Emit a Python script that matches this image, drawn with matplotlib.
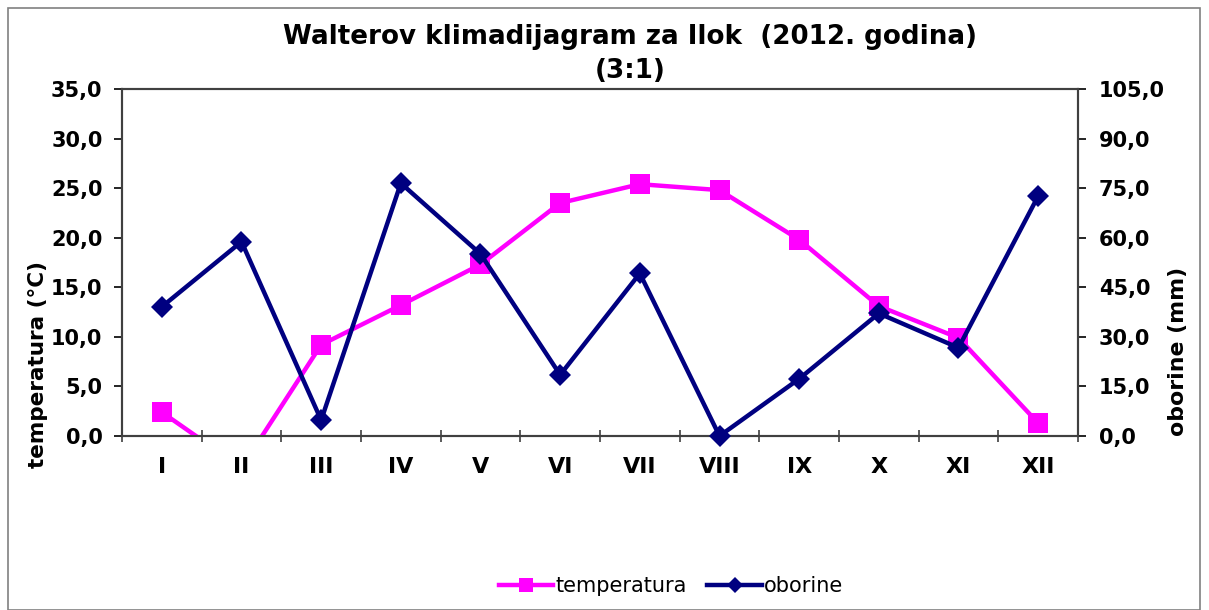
import matplotlib
matplotlib.use("Agg")
import matplotlib.pyplot as plt
from matplotlib.ticker import FuncFormatter, FixedLocator
from matplotlib.patches import Rectangle

plt.rcParams['font.family'] = ['DejaVu Sans']

months = ['I', 'II', 'III', 'IV', 'V', 'VI', 'VII', 'VIII', 'IX', 'X', 'XI', 'XII']
temperatura = [2.4, -3.2, 9.2, 13.2, 17.3, 23.5, 25.4, 24.8, 19.8, 13.1, 9.9, 1.3]
oborine = [39.1, 58.8, 4.8, 76.5, 55.1, 18.5, 49.2, 0.0, 17.3, 37.1, 26.7, 72.6]
left_ticks = [0, 5, 10, 15, 20, 25, 30, 35]
right_ticks = [0, 15, 30, 45, 60, 75, 90, 105]

W, H = 1209, 610
fig = plt.figure(figsize=(W / 100, H / 100), dpi=100)
ax = fig.add_axes([122 / W, 1 - 436 / H, (1078 - 122) / W, (436 - 89) / H])
ax2 = ax.twinx()

x = list(range(len(months)))
comma = FuncFormatter(lambda v, p: f"{v:.1f}".replace('.', ','))

l1, = ax.plot(x, temperatura, color='#FF00FF', lw=3.2, marker='s', markersize=14,
              markeredgewidth=0, zorder=3, label='temperatura')
l2, = ax2.plot(x, oborine, color='#000080', lw=3.2, marker='D', markersize=11,
               markeredgewidth=0, zorder=3, label='oborine', clip_on=False)

ax.set_xlim(-0.5, len(months) - 0.5)
ax.set_ylim(0, 35)
ax2.set_ylim(0, 105)
ax.set_yticks(left_ticks)
ax2.set_yticks(right_ticks)
ax.yaxis.set_major_formatter(comma)
ax2.yaxis.set_major_formatter(comma)

ax.set_xticks(x)
ax.set_xticklabels(months)
ax.xaxis.set_minor_locator(FixedLocator([i + 0.5 for i in range(-1, len(months))]))
ax.tick_params(axis='x', which='major', length=0, pad=15, labelsize=16)
ax.tick_params(axis='x', which='minor', direction='inout', length=9, width=1.2, color='#404040')
for lab in ax.get_xticklabels():
    lab.set_fontweight('bold')

ax.tick_params(axis='y', direction='out', length=6, width=1.2, labelsize=15, pad=8)
ax2.tick_params(axis='y', direction='out', length=6, width=1.2, labelsize=15, pad=9)
for lab in ax.get_yticklabels() + ax2.get_yticklabels():
    lab.set_fontweight('bold')

for a in (ax, ax2):
    for s in a.spines.values():
        s.set_color('#404040')
        s.set_linewidth(1.5)

ax.set_ylabel('temperatura (°C)', fontsize=15.5, fontweight='bold')
ax.yaxis.set_label_coords(-0.0774, 0.205)
ax2.set_ylabel('oborine (mm)', fontsize=15.8, fontweight='bold')
ax2.yaxis.set_label_coords(1.0941, 0.2435)

fig.text(630 / W, 1 - 37 / H, 'Walterov klimadijagram za Ilok  (2012. godina)',
         ha='center', va='center', fontsize=18.8, fontweight='bold')
fig.text(630 / W, 1 - 71 / H, '(3:1)', ha='center', va='center', fontsize=18.8, fontweight='bold')

fig.legend(handles=[l1, l2], loc='center', bbox_to_anchor=(671 / W, 1 - 586 / H),
           ncol=2, frameon=False, fontsize=15, handlelength=2.6, handletextpad=0.1,
           columnspacing=1.0, markerscale=0.75)

fig.patches.append(Rectangle((8 / W, 0), (1200 - 8) / W, 1 - 8 / H, transform=fig.transFigure,
                             fill=False, edgecolor='#808080', lw=1.2))

fig.savefig('out.png', dpi=100, facecolor='white')
